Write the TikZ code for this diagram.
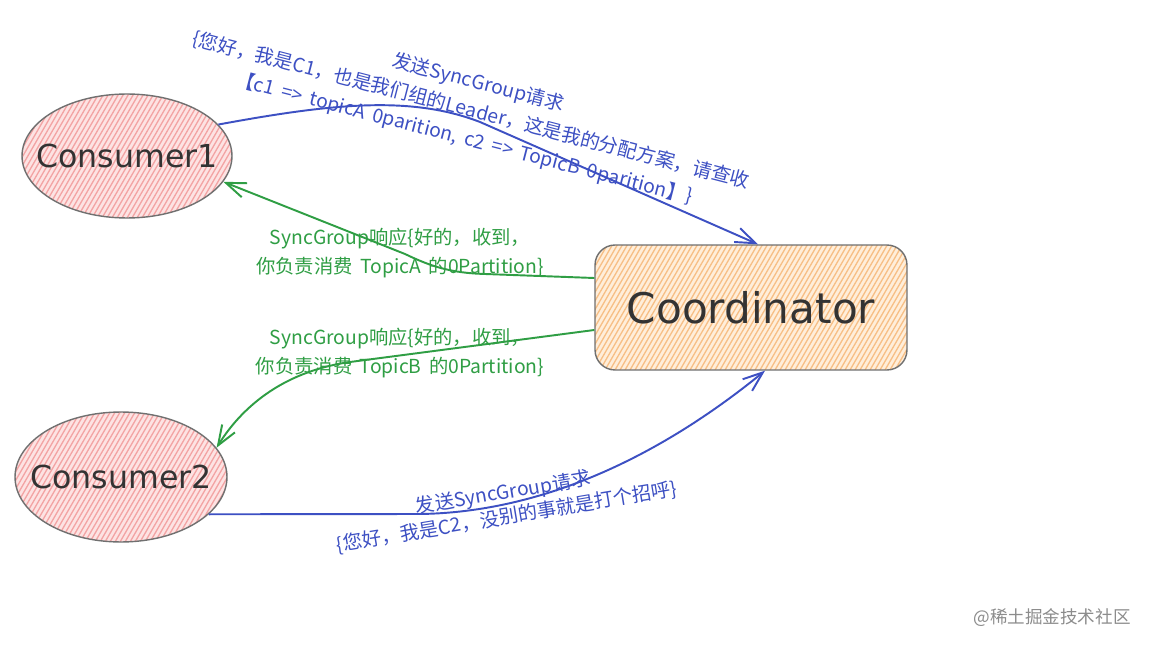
\documentclass[tikz,border=0pt]{standalone}
\usepackage{fontspec}
\setmainfont{DejaVu Sans}
\newfontfamily\cjk{Noto Sans CJK SC}
\usetikzlibrary{arrows.meta,shapes.geometric}
\definecolor{cblue}{HTML}{3D50C3}
\definecolor{cgreen}{HTML}{2F9E44}
\definecolor{nodegray}{HTML}{707070}
\definecolor{nodetext}{HTML}{333333}
\definecolor{pinkbg}{HTML}{FDE3E3}
\definecolor{pinkline}{HTML}{F3A4A4}
\definecolor{orangebg}{HTML}{FFEEDA}
\definecolor{orangeline}{HTML}{F7BF86}
\tikzset{
  hatchfill/.style 2 args={fill=#1, path picture={
      \foreach \k in {-25,...,70}
        \draw[#2, line width=0.75pt] ([xshift=\k*0.1cm]path picture bounding box.south west) -- ++(2cm,3.46cm);
  }},
  nodelabel/.style={text=nodetext, inner sep=0pt},
  consumer/.style={ellipse, draw=nodegray, line width=0.8pt, hatchfill={pinkbg}{pinkline}, inner sep=0pt},
  coordbox/.style={rectangle, rounded corners=0.4cm, draw=nodegray, line width=0.8pt,
    hatchfill={orangebg}{orangeline}, text=nodetext, font=\fontsize{24}{28}\selectfont, inner sep=0pt},
  bluearrow/.style={draw=cblue, line width=1.1pt, -{Straight Barb[length=4mm,width=3mm]}},
  greenarrow/.style={draw=cgreen, line width=1.1pt, -{Straight Barb[length=4mm,width=3mm]}},
  bluelbl/.style={text=cblue, align=center, inner sep=0pt},
  greenlbl/.style={text=cgreen, align=center, inner sep=0pt, font=\cjk\fontsize{11}{16.5}\selectfont},
}
\begin{document}
\begin{tikzpicture}[x=0.02cm,y=-0.02cm]
\useasboundingbox (0,0) rectangle (1152,648);
\fill[white] (0,0) rectangle (1152,648);

\node[consumer, minimum width=4.2cm, minimum height=2.48cm,
  label={[nodelabel, font=\fontsize{18}{22}\selectfont]center:Consumer1}] (c1) at (127,156) {};
\node[consumer, minimum width=4.24cm, minimum height=2.6cm,
  label={[nodelabel, font=\fontsize{18}{22}\selectfont]center:Consumer2}] (c2) at (121,477) {};
\node[coordbox, minimum width=6.24cm, minimum height=2.5cm] (coord) at (751,307.5) {Coordinator};

\draw[bluearrow] (c1.19) .. controls (330,104) and (410,95) .. (480,122) -- ([xshift=0.14cm]coord.north);
\draw[greenarrow] ([yshift=0.59cm]coord.west) -- (485,274) .. controls (450,273) and (430,266) .. (405,254) -- (c1.-15);
\draw[greenarrow] ([yshift=-0.45cm]coord.west) -- (350,362) .. controls (280,372) and (240,410) .. (c2.17);
\draw[bluearrow] (c2.-23) -- (420,514) .. controls (560,512) and (680,440) .. ([xshift=0.28cm]coord.south);

\node[bluelbl, rotate=-14.5, font=\cjk\fontsize{11}{16.4}\selectfont] (l1) at (471,111)
  {发送SyncGroup请求\\\{您好，我是C1，也是我们组的Leader，这是我的分配方案，请查收\\【c1 \,=> \,topicA \,0parition, \,c2 \,=> \,TopicB \,0parition】\}};
\node[greenlbl] (l2) at (400,253) {SyncGroup响应\{好的，收到，\\你负责消费 \,TopicA \,的0Partition\}};
\node[greenlbl] (l3) at (400,353) {SyncGroup响应\{好的，收到，\\你负责消费 \,TopicB \,的0Partition\}};
\node[bluelbl, rotate=9.5, font=\cjk\fontsize{11}{14}\selectfont] (l4) at (505,505)
  {发送SyncGroup请求\\\{您好，我是C2，没别的事就是打个招呼\}};

\node[text=black!45, font=\cjk\fontsize{10}{12}\selectfont, inner sep=0pt] (wm) at (1052,618) {@稀土掘金技术社区};
\end{tikzpicture}
\end{document}
